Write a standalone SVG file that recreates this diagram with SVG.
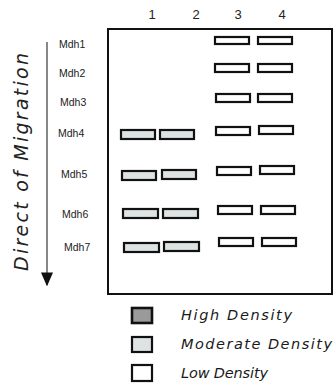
<svg xmlns="http://www.w3.org/2000/svg" width="334" height="390" viewBox="0 0 334 390">
<defs>
<marker id="ah" viewBox="0 0 10 10" refX="9" refY="5" markerWidth="14" markerHeight="12" orient="auto" markerUnits="userSpaceOnUse" preserveAspectRatio="none">
<path d="M0,0 L10,5 L0,10 z" fill="#111"/>
</marker>
<style>
.lbl{font-family:"Liberation Sans",Arial,sans-serif;font-size:10.5px;fill:#222}
.num{font-family:"Liberation Sans",Arial,sans-serif;font-size:13px;fill:#222}
.leg{font-family:"DejaVu Sans","Liberation Sans",sans-serif;font-size:14.5px;font-style:italic;fill:#1a1a1a}
.low{fill:#fff;stroke:#111;stroke-width:2.2}
.mod{fill:#dde3e3;stroke:#111;stroke-width:2.2}
.high{fill:#9a9a9a;stroke:#111;stroke-width:2.6}
</style>
</defs>
<rect width="334" height="390" fill="#fff"/>
<g id="gel">
<rect x="108" y="29" width="224" height="265" fill="none" stroke="#111" stroke-width="2"/>
</g>
<g id="lanes">
<text class="num" x="152" y="19" text-anchor="middle">1</text>
<text class="num" x="196" y="19" text-anchor="middle">2</text>
<text class="num" x="238" y="19" text-anchor="middle">3</text>
<text class="num" x="282" y="19" text-anchor="middle">4</text>
</g>
<g id="mdh1"><text class="lbl" x="59" y="48">Mdh1</text>
<rect class="low" x="215" y="37" width="34" height="7"/><rect class="low" x="258" y="37" width="34" height="7"/></g>
<g id="mdh2"><text class="lbl" x="59" y="77">Mdh2</text>
<rect class="low" x="215" y="64" width="34" height="8"/><rect class="low" x="258" y="64" width="34" height="8"/></g>
<g id="mdh3"><text class="lbl" x="60" y="106">Mdh3</text>
<rect class="low" x="216" y="94" width="34" height="8"/><rect class="low" x="258" y="94" width="34" height="8"/></g>
<g id="mdh4"><text class="lbl" x="58" y="137">Mdh4</text>
<rect class="mod" x="121" y="130" width="34" height="9"/><rect class="mod" x="160" y="130" width="34" height="9"/>
<rect class="low" x="216" y="127" width="34" height="8"/><rect class="low" x="259" y="126" width="34" height="8"/></g>
<g id="mdh5"><text class="lbl" x="61" y="178">Mdh5</text>
<rect class="mod" x="122" y="171" width="34" height="9"/><rect class="mod" x="162" y="170" width="34" height="9"/>
<rect class="low" x="217" y="167" width="34" height="8"/><rect class="low" x="260" y="166" width="34" height="8"/></g>
<g id="mdh6"><text class="lbl" x="62" y="218">Mdh6</text>
<rect class="mod" x="123" y="209" width="35" height="9"/><rect class="mod" x="163" y="209" width="35" height="9"/>
<rect class="low" x="218" y="206" width="34" height="8"/><rect class="low" x="261" y="206" width="34" height="8"/></g>
<g id="mdh7"><text class="lbl" x="64" y="251">Mdh7</text>
<rect class="mod" x="124" y="243" width="35" height="9"/><rect class="mod" x="164" y="242" width="35" height="9"/>
<rect class="low" x="219" y="238" width="34" height="8"/><rect class="low" x="262" y="238" width="34" height="8"/></g>
<g id="connectors">
<line x1="47" y1="42" x2="47" y2="285" stroke="#111" stroke-width="1" marker-end="url(#ah)"/>
</g>
<g id="axis-label">
<text x="0" y="0" transform="translate(28,271) rotate(-90)" font-family="'DejaVu Sans','Liberation Sans',sans-serif" font-size="19" font-style="italic" fill="#222" textLength="218" lengthAdjust="spacing">Direct of Migration</text>
</g>
<g id="legend">
<g id="leg-high"><rect class="high" x="132" y="308" width="20" height="15"/><text class="leg" x="181" y="320" textLength="111" lengthAdjust="spacing">High Density</text></g>
<g id="leg-mod"><rect class="mod" x="132" y="337" width="20" height="15"/><text class="leg" x="181" y="349" textLength="151" lengthAdjust="spacing">Moderate Density</text></g>
<g id="leg-low"><rect class="low" x="132" y="365" width="20" height="16"/><text class="leg" x="181" y="378" textLength="87" lengthAdjust="spacing">Low Density</text></g>
</g>
</svg>
